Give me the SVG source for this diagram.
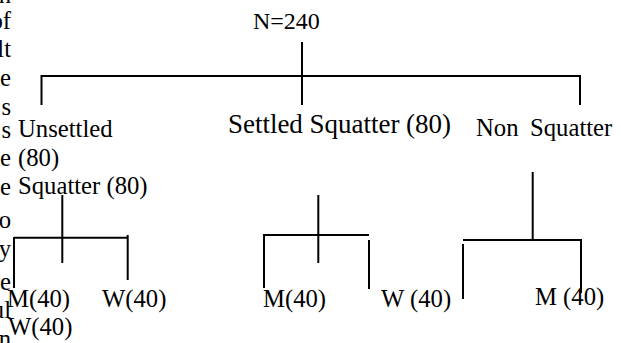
<svg xmlns="http://www.w3.org/2000/svg" width="621" height="343" viewBox="0 0 621 343">
<style>
text{font-size:24.7px;fill:#000}
.frag{text-anchor:end}
line{stroke:#000;stroke-width:2;fill:none}
</style>
<rect width="621" height="343" fill="#fff"/>
<g font-family="Liberation Serif, DejaVu Serif, serif">
<g id="margin-fragments">
<text class="frag" x="11" y="3">n</text>
<text class="frag" x="11" y="29">of</text>
<text class="frag" x="11" y="57">lt</text>
<text class="frag" x="11" y="86">e</text>
<text class="frag" x="11" y="115">s</text>
<text class="frag" x="11" y="138">s</text>
<text class="frag" x="11" y="166">e</text>
<text class="frag" x="11" y="195">e</text>
<text class="frag" x="11" y="228">o</text>
<text class="frag" x="11" y="257">y</text>
<text class="frag" x="11" y="290">e</text>
<text class="frag" x="11" y="318">ul</text>
<text class="frag" x="11" y="347">n</text>
</g>
<g id="root"><text x="253" y="29" style="font-size:24px">N=240</text></g>
<g id="unsettled">
<text x="18" y="137">Unsettled</text>
<text x="18" y="166">(80)</text>
<text x="18" y="194">Squatter (80)</text>
</g>
<g id="settled"><text x="228" y="133" style="font-size:27px" textLength="223">Settled Squatter (80)</text></g>
<g id="nonsquatter"><text x="476" y="136">Non</text><text x="530" y="136">Squatter</text></g>
<g id="unsettled-m"><text x="7" y="307">M(40)</text></g>
<g id="unsettled-w"><text x="102" y="307">W(40)</text></g>
<g id="unsettled-w2"><text x="8" y="335">W(40)</text></g>
<g id="settled-m"><text x="263" y="307">M(40)</text></g>
<g id="settled-w"><text x="381" y="307">W (40)</text></g>
<g id="nonsquatter-m"><text x="535" y="305">M (40)</text></g>
</g>
<g id="connectors">
<line x1="302" y1="42" x2="302" y2="105"/>
<line x1="41.5" y1="76" x2="580" y2="76"/>
<line x1="41.5" y1="75" x2="41.5" y2="105"/>
<line x1="580" y1="75" x2="580" y2="105"/>
<line x1="62.3" y1="195" x2="62.3" y2="263"/>
<line x1="14" y1="237.7" x2="127.7" y2="237.7"/>
<line x1="14" y1="237" x2="14" y2="288"/>
<line x1="127.7" y1="235" x2="127.7" y2="280"/>
<line x1="318.3" y1="195" x2="318.3" y2="263"/>
<line x1="264" y1="235" x2="369" y2="235"/>
<line x1="264" y1="234" x2="264" y2="288"/>
<line x1="369" y1="240" x2="369" y2="289"/>
<line x1="532.7" y1="172" x2="532.7" y2="240"/>
<line x1="463" y1="240" x2="581" y2="240"/>
<line x1="463" y1="244" x2="463" y2="299"/>
<line x1="581" y1="239" x2="581" y2="293"/>
</g>
</svg>
